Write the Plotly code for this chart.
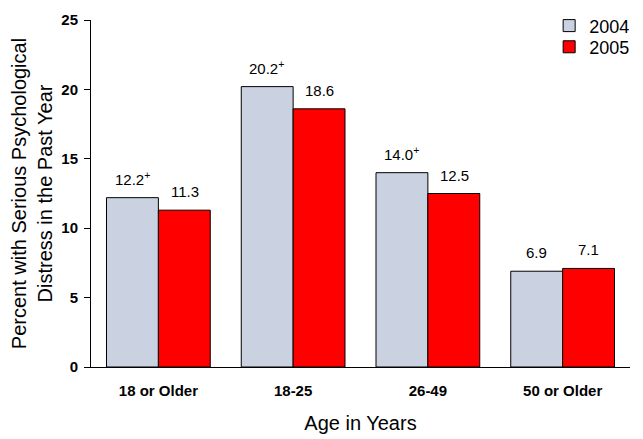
import plotly.graph_objects as go

categories = ["18 or Older", "18-25", "26-49", "50 or Older"]
values_2004 = [12.2, 20.2, 14.0, 6.9]
values_2005 = [11.3, 18.6, 12.5, 7.1]
labels_2004 = ["12.2<sup>+</sup>", "20.2<sup>+</sup>", "14.0<sup>+</sup>", "6.9"]
labels_2005 = ["11.3", "18.6", "12.5", "7.1"]
y_ticks = [0, 5, 10, 15, 20, 25]

fig = go.Figure()
fig.add_trace(go.Bar(name="2004", x=categories, y=values_2004, legend="legend",
                     marker=dict(color="#CAD2E2", line=dict(color="black", width=1))))
fig.add_trace(go.Bar(name="2005", x=categories, y=values_2005, legend="legend2",
                     marker=dict(color="#FF0000", line=dict(color="black", width=1))))

for i, c in enumerate(categories):
    fig.add_annotation(x=i - 0.195, y=values_2004[i], text=labels_2004[i], showarrow=False,
                       yanchor="bottom", yshift=8, font=dict(size=15, color="black"))
    fig.add_annotation(x=i + 0.195, y=values_2005[i], text=labels_2005[i], showarrow=False,
                       yanchor="bottom", yshift=8, font=dict(size=15, color="black"))

leg_common = dict(x=0.85, xanchor="left", yanchor="middle", font=dict(size=18),
                  bgcolor="rgba(0,0,0,0)", itemwidth=30)

fig.update_layout(
    width=635, height=431,
    margin=dict(l=83, r=13, t=12, b=72, autoexpand=False),
    paper_bgcolor="white", plot_bgcolor="white",
    font=dict(family="Liberation Sans, Arial, sans-serif", color="black"),
    barmode="group", bargap=0.23, bargroupgap=0,
    showlegend=True,
    legend=dict(y=0.983, **leg_common),
    legend2=dict(y=0.922, **leg_common),
    xaxis=dict(
        title=dict(text="Age in Years", font=dict(size=20), standoff=17),
        tickfont=dict(size=15, weight="bold"), ticklabelstandoff=10,
        showline=True, linecolor="black", linewidth=1, ticks="", showgrid=False,
        automargin=False,
    ),
    yaxis=dict(
        title=dict(text="Percent with Serious Psychological<br>Distress in the Past Year",
                   font=dict(size=20), standoff=9),
        range=[0, 25], tickvals=y_ticks,
        tickfont=dict(size=15, weight="bold"), ticklabelstandoff=3,
        showline=True, linecolor="black", linewidth=1,
        ticks="outside", ticklen=6, tickcolor="black", showgrid=False, zeroline=False,
        automargin=False,
    ),
)

fig.write_html("out.html")
